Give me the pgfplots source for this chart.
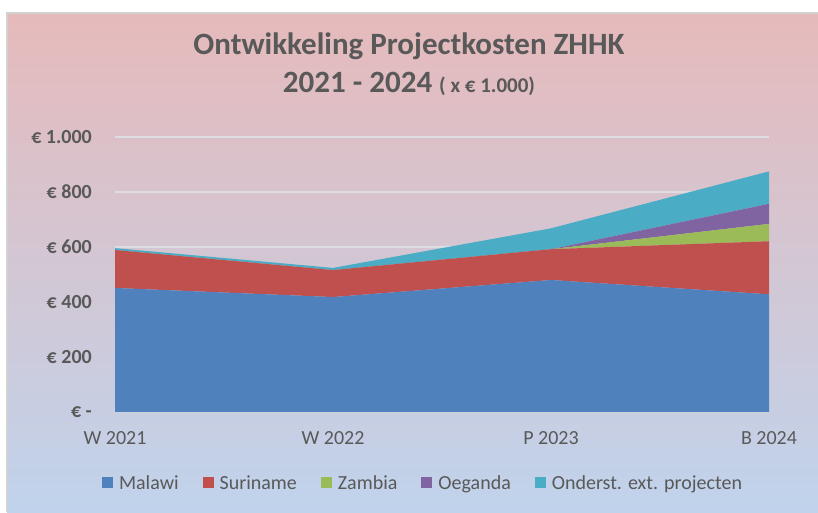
\documentclass[border=0pt]{standalone}
\usepackage{fontspec}
\setmainfont{Carlito}
\usepackage{pgfplots}
\pgfplotsset{compat=1.18}
\definecolor{txt}{HTML}{595959}
\definecolor{topc}{RGB}{230,186,187}
\definecolor{botc}{RGB}{192,211,236}
\definecolor{cmal}{HTML}{4F81BD}
\definecolor{csur}{HTML}{C0504D}
\definecolor{czam}{HTML}{9BBB59}
\definecolor{coeg}{HTML}{8064A2}
\definecolor{cond}{HTML}{4BACC6}
\definecolor{gridc}{RGB}{222,222,226}
\begin{document}
\begin{tikzpicture}[x=1pt,y=1pt]
\useasboundingbox (0,0) rectangle (818,512);
\shade[top color=topc, bottom color=botc] (7,0) rectangle (818,499);
\draw[gray!35, line width=1.2pt] (7,0) -- (7,499) -- (818,499);
\node[text=txt, font=\fontsize{31}{34}\selectfont\bfseries, anchor=base] at (409,457) {Ontwikkeling Projectkosten ZHHK};
\node[text=txt, font=\fontsize{31}{34}\selectfont\bfseries, anchor=base] at (409,419) {2021 - 2024 {\fontsize{21}{24}\selectfont ( x € 1.000)}};
\begin{axis}[
  at={(115pt,100pt)}, anchor=south west,
  scale only axis, width=654pt, height=275pt,
  xmin=0, xmax=3, ymin=0, ymax=1000,
  stack plots=y, area style, no markers, axis on top=false,
  axis line style={draw=none},
  major tick length=0pt,
  ymajorgrids, grid style={gridc, line width=1.6pt},
  ytick={0,200,400,600,800,1000},
  yticklabels={€ -, € 200, € 400, € 600, € 800, € 1.000},
  xtick={0,1,2,3},
  xticklabels={W 2021, W 2022, P 2023, B 2024},
  yticklabel style={font=\fontsize{20}{22}\selectfont\bfseries, text=txt, inner sep=0pt, anchor=east, xshift=-23pt},
  xticklabel style={font=\fontsize{20}{22}\selectfont, text=txt, inner sep=0pt, anchor=base, yshift=-32pt},
  legend columns=5,
  legend style={at={(0.471,-0.258)}, anchor=center, draw=none, fill=none,
    font=\fontsize{20}{22}\selectfont, text=txt,
    /tikz/every even column/.append style={column sep=22pt}},
  legend image code/.code={\fill[#1] (0pt,-5.5pt) rectangle (11pt,5.5pt); \path (15pt,0pt);},
]
\addplot[fill=cmal, draw=none] coordinates {(0,451) (1,418) (2,480) (3,428)} \closedcycle;
\addplot[fill=csur, draw=none] coordinates {(0,138) (1,98) (2,112) (3,193)} \closedcycle;
\addplot[fill=czam, draw=none] coordinates {(0,0) (1,0) (2,0) (3,63)} \closedcycle;
\addplot[fill=coeg, draw=none] coordinates {(0,0) (1,0) (2,0) (3,73)} \closedcycle;
\addplot[fill=cond, draw=none] coordinates {(0,7) (1,8) (2,76) (3,118)} \closedcycle;
\legend{Malawi, Suriname, Zambia, Oeganda, Onderst. ext. projecten}
\end{axis}
\end{tikzpicture}
\end{document}
